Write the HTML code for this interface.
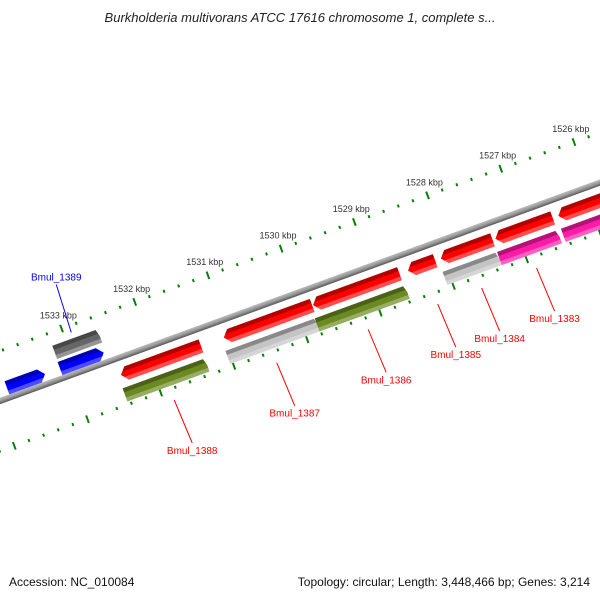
<!DOCTYPE html>
<html><head><meta charset="utf-8"><style>
body{margin:0;background:#fff}
svg{display:block}
text{font-family:"Liberation Sans",sans-serif}
</style></head><body>
<svg id="map" width="600" height="600" viewBox="0 0 600 600">
<defs>
<linearGradient id="bb" x1="0" y1="0" x2="0" y2="1"><stop offset="0" stop-color="#bbb"/><stop offset="0.5" stop-color="#999"/><stop offset="1" stop-color="#555"/></linearGradient>
</defs>
<text x="300" y="22" text-anchor="middle" font-size="13" font-style="italic" fill="#222">Burkholderia multivorans ATCC 17616 chromosome 1, complete s...</text>
<g id="ring" transform="translate(0,401) rotate(-20)"></g>
<g id="labels"></g>
<text x="9" y="586" font-size="12" fill="#111">Accession: NC_010084</text>
<text x="590" y="586" text-anchor="end" font-size="12" fill="#111">Topology: circular; Length: 3,448,466 bp; Genes: 3,214</text>
</svg>
<script>
// feature data (kbp)
const featNames=["blue-a","Bmul_1389","Bmul_1389-b","Bmul_1388","Bmul_1387","Bmul_1386","Bmul_1385","Bmul_1384","Bmul_1383","next-red","Bmul_1388-b","Bmul_1387-b","Bmul_1386-b","Bmul_1385-b","Bmul_1384-b","next-pink"];
const featStart=[1533.919,1533.194,1533.187,1532.487,1531.082,1529.863,1528.566,1528.117,1527.372,1526.512,1532.526,1531.121,1529.901,1528.155,1527.411,1526.538];
const featEnd=[1533.399,1532.597,1532.571,1531.394,1529.875,1528.682,1528.194,1527.411,1526.589,1525.716,1531.403,1529.888,1528.669,1527.411,1526.589,1525.716];
const featTrack=[0,0,1,2,2,2,2,2,2,2,3,3,3,3,3,3];
const featColor=["#0000ff","#0000ff","#666666","#ff0000","#ff0000","#ff0000","#ff0000","#ff0000","#ff0000","#ff0000","#6b8a22","#c4c4c4","#6b8a22","#c4c4c4","#ff1aa8","#ff1aa8"];
const featDir=[1,1,0,-1,-1,-1,-1,-1,-1,-1,0,0,0,0,0,0];
const tickLabels=["1533 kbp","1532 kbp","1531 kbp","1530 kbp","1529 kbp","1528 kbp","1527 kbp","1526 kbp"];
const tickKbp=[1533,1532,1531,1530,1529,1528,1527,1526];
const geneLabels=["Bmul_1389","Bmul_1388","Bmul_1387","Bmul_1386","Bmul_1385","Bmul_1384","Bmul_1383"];
const geneLabelKbp=[1532.9,1531.95,1530.55,1529.3,1528.35,1527.75,1527.0];
const geneLabelSide=[1,-1,-1,-1,-1,-1,-1];

const NS="http://www.w3.org/2000/svg";
const U=k=>82.6+(1533-k)*77.9;
const trackV=[10,27,-17,-37];
const ring=document.getElementById('ring');
function mk(tag,attrs,parent){const e=document.createElementNS(NS,tag);for(const a in attrs)e.setAttribute(a,attrs[a]);parent.appendChild(e);return e;}
function shade(c,f){const n=parseInt(c.slice(1),16);let r=n>>16,g=(n>>8)&255,b=n&255;
 const m=x=>Math.max(0,Math.min(255,Math.round(f<0?x*(1+f):x+(255-x)*f)));return `rgb(${m(r)},${m(g)},${m(b)})`;}
const bb=mk('rect',{x:-50,y:-3,width:800,height:6,fill:'url(#bb)'},ring);


function ticks(v,offset,name){
 const g=mk('g',{},ring);
 
 
 for(let k=1535;k>=1525;k-=0.2){
  const u=U(k)+offset; if(u<-20||u>700)continue;
  const major=Math.abs(k-Math.round(k))<0.01;
  const len=major?8:3;
  const t=mk('rect',{x:u-1,y:-v-len/2,width:2,height:len,fill:'#0a7d0a'},g);
  
  
 }
}
ticks(47,0,'outer-ruler');
ticks(-47,-84.6+78,'inner-ruler');
const svg=document.getElementById('map');
const ang=-20*Math.PI/180, dx=Math.cos(ang), dy=Math.sin(ang), nx=Math.sin(ang), ny=-Math.cos(ang);
function pt(u,v){return [u*dx+v*nx, 401+u*dy+v*ny];}
tickLabels.forEach((s,i)=>{
 const [x,y]=pt(U(tickKbp[i]),62);
 const t=mk('text',{x:x+2,y:y+4,'font-size':9,fill:'#333','text-anchor':'middle'},svg);
 t.textContent=s;
 
 
});
featNames.forEach((n,i)=>{
 const u1=U(featStart[i]),u2=U(featEnd[i]),v=trackV[featTrack[i]],h=14,y0=-v-h/2,c=featColor[i];
 const g=mk('g',{},ring);
 
 
 const a=6;let pts;
 if(featDir[i]>0)pts=`${u1},${y0} ${u2-a},${y0} ${u2},${y0+h/2} ${u2-a},${y0+h} ${u1},${y0+h}`;
 else if(featDir[i]<0)pts=`${u1+a},${y0} ${u2},${y0} ${u2},${y0+h} ${u1+a},${y0+h} ${u1},${y0+h/2}`;
 else pts=`${u1},${y0} ${u2-2},${y0} ${u2},${y0+h/2} ${u2},${y0+h} ${u1},${y0+h}`;
 const gid='g'+i;
 const lg=mk('linearGradient',{id:gid,x1:0,y1:0,x2:0,y2:1},g);
 mk('stop',{offset:0,'stop-color':shade(c,-0.3)},lg);
 mk('stop',{offset:0.3,'stop-color':shade(c,-0.3)},lg);
 mk('stop',{offset:0.32,'stop-color':c},lg);
 mk('stop',{offset:0.7,'stop-color':c},lg);
 mk('stop',{offset:0.72,'stop-color':shade(c,0.3)},lg);
 mk('stop',{offset:1,'stop-color':shade(c,0.3)},lg);
 mk('polygon',{points:pts,fill:`url(#${gid})`},g);
});
const lab=document.getElementById('labels');
geneLabels.forEach((s,i)=>{
 const side=geneLabelSide[i],u=U(geneLabelKbp[i]);
 let [x1,y1]=pt(u,side>0?40:-46);
 if(side<0){y1+=12;x1+=4;}
 const x2=x1+(side>0?-15:18), y2=y1+(side>0?-48:43);
 const col=side>0?'#0000ff':'#ff0000';
 const l=mk('line',{x1,y1,x2,y2,stroke:col,'stroke-width':1},lab);
 
 
 const t=mk('text',{x:x2,y:side>0?y2-4:y2+11,'font-size':10,fill:col,'text-anchor':'middle'},lab);
 t.textContent=s;
 
 
});
</script>
</body></html>
